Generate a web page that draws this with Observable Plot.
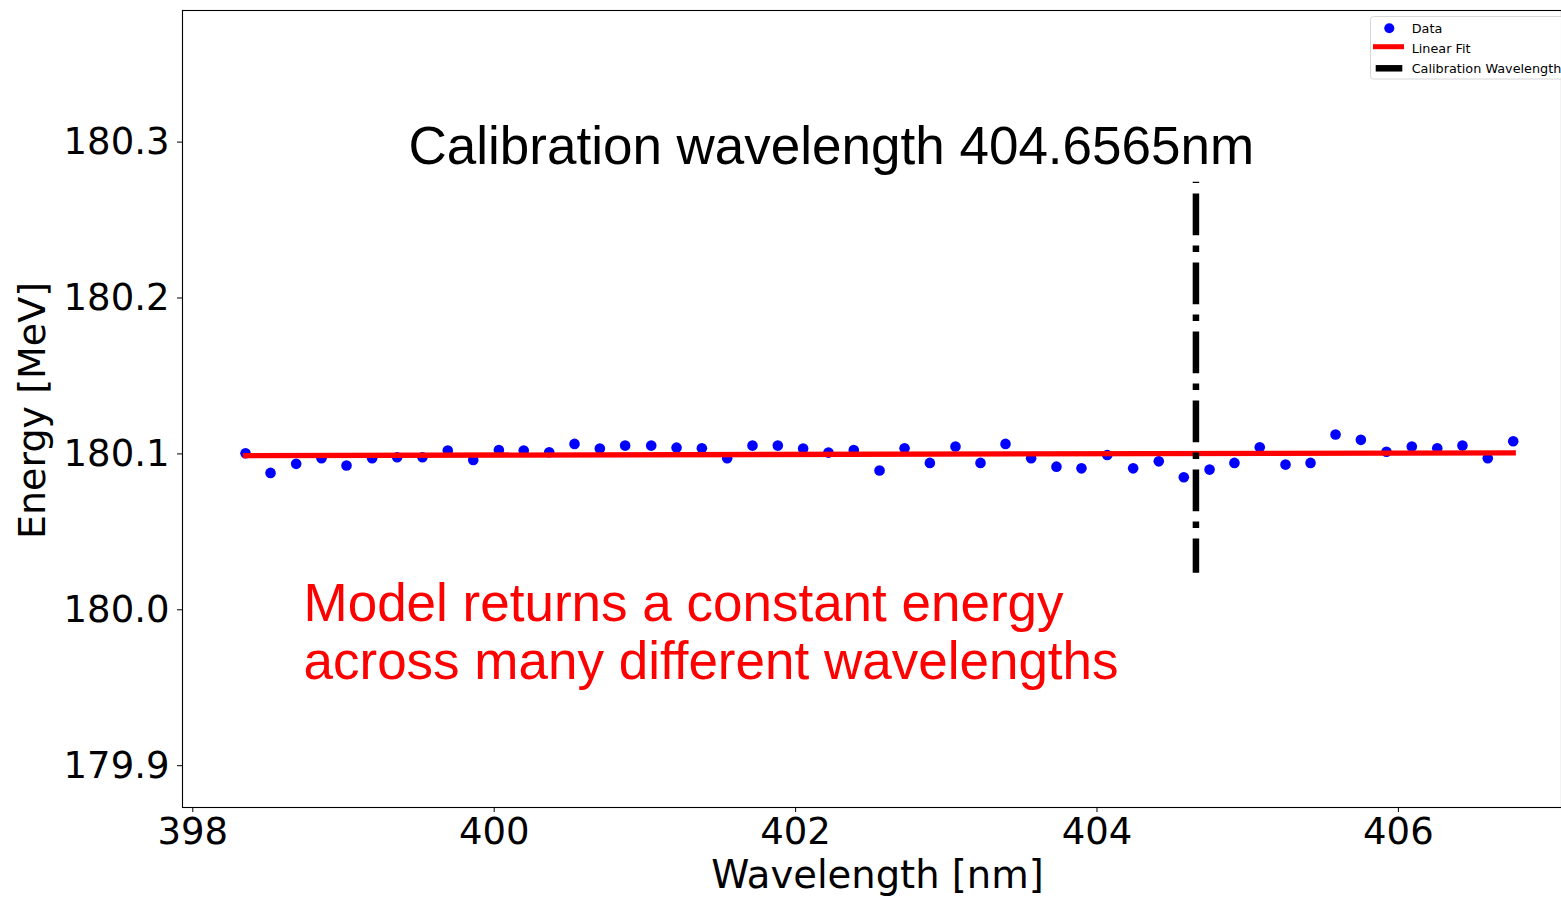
<!DOCTYPE html>
<html>
<head>
<meta charset="utf-8">
<script src="https://cdn.jsdelivr.net/npm/d3@7"></script>
<script src="https://cdn.jsdelivr.net/npm/@observablehq/plot@0.6"></script>
<style>
  html, body { margin: 0; padding: 0; background: #fff; }
  #chart svg { display: block; }
</style>
</head>
<body>
<div id="chart"></div>
<script>
// Measured wavelengths [nm] and reconstructed energies [MeV]
const wavelength = [
  398.350, 398.516, 398.686, 398.854, 399.020, 399.190, 399.356, 399.524, 399.692, 399.861,
  400.031, 400.196, 400.365, 400.533, 400.701, 400.869, 401.042, 401.210, 401.378, 401.546,
  401.714, 401.882, 402.050, 402.218, 402.386, 402.557, 402.723, 402.891, 403.061, 403.227,
  403.393, 403.563, 403.731, 403.897, 404.068, 404.240, 404.410, 404.576, 404.747, 404.912,
  405.080, 405.251, 405.417, 405.583, 405.751, 405.921, 406.089, 406.258, 406.425, 406.593,
  406.762
];
const energy = [
  180.0994, 180.0868, 180.0926, 180.0962, 180.0915, 180.0962, 180.0968, 180.0968, 180.1011, 180.0951,
  180.1015, 180.1011, 180.1000, 180.1054, 180.1024, 180.1043, 180.1043, 180.1030, 180.1026, 180.0962,
  180.1043, 180.1043, 180.1024, 180.0998, 180.1015, 180.0883, 180.1026, 180.0932, 180.1037, 180.0932,
  180.1054, 180.0962, 180.0908, 180.0897, 180.0983, 180.0897, 180.0942, 180.0840, 180.0889, 180.0932,
  180.1032, 180.0921, 180.0932, 180.1114, 180.1080, 180.1004, 180.1037, 180.1026, 180.1043, 180.0962,
  180.1071
];

// Linear fit evaluated at the ends of the wavelength range
const fitWavelength = [398.350, 406.762];
const fitEnergy = [180.0979, 180.0996];

// Calibration wavelength marker
const calibrationWavelength = 404.6565;
const calibrationEnergySpan = [180.2732, 180.0224];

// Axis ticks
const xTicks = [398, 400, 402, 404, 406];
const yTicks = [179.9, 180.0, 180.1, 180.2, 180.3];

const points = wavelength.map((w, i) => ({w, e: energy[i]}));
const fit = fitWavelength.map((w, i) => ({w, e: fitEnergy[i]}));
const calibration = [{w: calibrationWavelength, e1: calibrationEnergySpan[0], e2: calibrationEnergySpan[1]}];

const W = 1561, H = 897;
const mL = 182, mT = 10, mB = 90, mR = 0;
const sansArial = "'Liberation Sans', Arial, sans-serif";

const chart = Plot.plot({
  width: W,
  height: H,
  marginLeft: mL,
  marginRight: mR,
  marginTop: mT,
  marginBottom: mB,
  style: {fontFamily: "'DejaVu Sans', sans-serif", fontSize: "37px", background: "#fff", color: "#000", overflow: "hidden"},
  x: {domain: [397.9317, 407.0823]},
  y: {domain: [179.87216, 180.38339]},
  marks: [
    Plot.frame({stroke: "#000", strokeWidth: 1.1}),
    Plot.axisX({ticks: xTicks, tickFormat: d3.format("d"), tickSize: 5, tickPadding: 5, fontSize: 37, label: null}),
    Plot.axisY({ticks: yTicks, tickFormat: d => d.toFixed(1), tickSize: 5, tickPadding: 8, fontSize: 37, label: null, dy: 1.6}),
    Plot.text(["Wavelength [nm]"], {frameAnchor: "bottom", textAnchor: "middle", lineAnchor: "middle",
      dx: 5.5, dy: 68.6, fontSize: 38.5, fill: "#000"}),
    Plot.text(["Energy [MeV]"], {frameAnchor: "left", textAnchor: "middle", lineAnchor: "middle", rotate: -90,
      dx: -149.4, dy: 1.5, fontSize: 38, fill: "#000"}),
    Plot.dot(points, {x: "w", y: "e", r: 5.3, fill: "#0000ff", stroke: "none"}),
    Plot.line(fit, {x: "w", y: "e", stroke: "#ff0000", strokeWidth: 5.3, strokeLinecap: "square"}),
    Plot.ruleX(calibration, {x: "w", y1: "e1", y2: "e2", stroke: "#000", strokeWidth: 6.5,
      strokeDasharray: "41.7 10.4 6.5 10.4", strokeDashoffset: 57.3}),
    Plot.text(["Calibration wavelength 404.6565nm"], {frameAnchor: "top-left", textAnchor: "start", lineAnchor: "middle",
      dx: 226, dy: 137, fontSize: 53, fontFamily: sansArial, fill: "#000"}),
    Plot.text(["Model returns a constant energy\nacross many different wavelengths"], {frameAnchor: "top-left",
      textAnchor: "start", lineAnchor: "middle",
      dx: 121, dy: 621, fontSize: 53, lineHeight: 1.094, fontFamily: sansArial, fill: "#ff0000"})
  ]
});

document.getElementById("chart").append(chart);

// Legend in the upper-right corner
const svg = d3.select(chart);
const lg = svg.append("g")
  .attr("font-family", "'DejaVu Sans', sans-serif")
  .attr("font-size", 12.8)
  .attr("text-anchor", "start");
lg.append("rect").attr("x", 1370.5).attr("y", 16.5).attr("width", 220).attr("height", 62.5)
  .attr("rx", 3).attr("fill", "#fff").attr("fill-opacity", 0.8).attr("stroke", "#d6d6d6").attr("stroke-width", 1);
lg.append("circle").attr("cx", 1389.3).attr("cy", 28.3).attr("r", 5).attr("fill", "#0000ff");
lg.append("line").attr("x1", 1373).attr("x2", 1404).attr("y1", 46.7).attr("y2", 46.7)
  .attr("stroke", "#ff0000").attr("stroke-width", 5);
lg.append("line").attr("x1", 1375.7).attr("x2", 1402.3).attr("y1", 68.3).attr("y2", 68.3)
  .attr("stroke", "#000").attr("stroke-width", 6.5);
[["Data", 32.7], ["Linear Fit", 52.7], ["Calibration Wavelength", 72.7]].forEach(([t, yb]) => {
  lg.append("text").attr("x", 1411.7).attr("y", yb).attr("fill", "#000").attr("text-anchor", "start").text(t);
});
</script>
</body>
</html>
